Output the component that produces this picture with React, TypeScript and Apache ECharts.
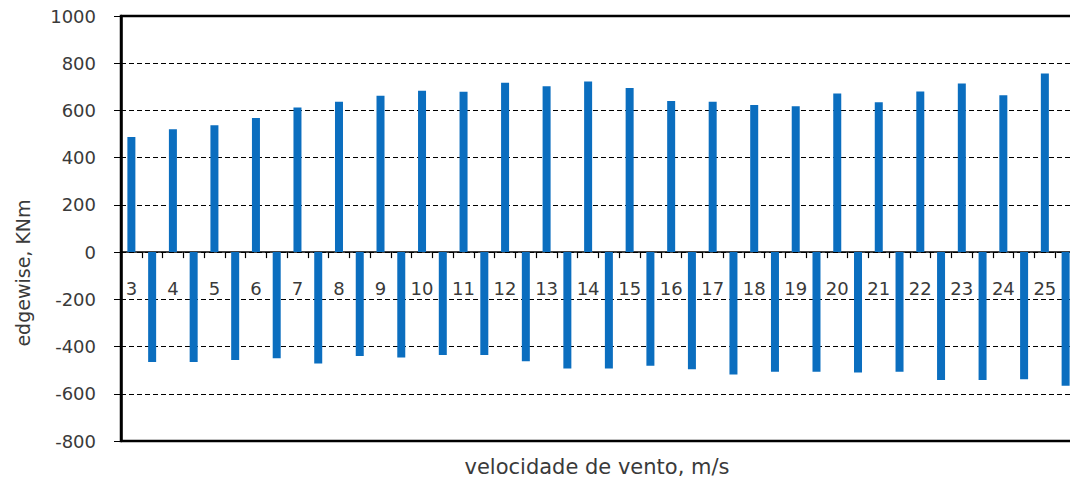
import React, { useEffect, useRef } from "react";
import * as echarts from "echarts";

const windSpeeds = [3, 4, 5, 6, 7, 8, 9, 10, 11, 12, 13, 14, 15, 16, 17, 18, 19, 20, 21, 22, 23, 24, 25];
const maxMoments = [488, 520, 537, 568, 613, 637, 662, 683, 679, 717, 703, 723, 695, 640, 637, 623, 618, 672, 635, 680, 714, 664, 757];
const minMoments = [-465, -465, -457, -450, -472, -440, -446, -436, -436, -462, -493, -493, -481, -496, -518, -507, -507, -510, -507, -542, -542, -538, -566];
const yTicks = { min: -800, max: 1000, interval: 200 };
const xTitle = "velocidade de vento, m/s";
const yTitle = "edgewise, KNm";

const FONT = "DejaVu Sans";
const BAR = "#0B6EBF";
const GRID_TOP = 16;
const GRID_BOTTOM = 38;
const HEIGHT = 479;

export default function App() {
  const ref = useRef<HTMLDivElement>(null);
  useEffect(() => {
    if (!ref.current) return;
    const chart = echarts.init(ref.current, undefined, { renderer: "svg" });
    const categories: string[] = [];
    const values: number[] = [];
    windSpeeds.forEach((s, i) => {
      categories.push(String(s));
      values.push(maxMoments[i]);
      categories.push(String(s) + "-");
      values.push(minMoments[i]);
    });
    const plotH = HEIGHT - GRID_TOP - GRID_BOTTOM;
    const zeroFromBottom = (0 - yTicks.min) / (yTicks.max - yTicks.min) * plotH;
    chart.setOption({
      animation: false,
      grid: {
        left: 121,
        top: GRID_TOP,
        right: -6,
        bottom: GRID_BOTTOM,
        outerBoundsMode: "none",
        containLabel: false,
        show: true,
        borderColor: "#000",
        borderWidth: 2.5,
        backgroundColor: "transparent",
      },
      xAxis: {
        type: "category",
        data: categories,
        position: "bottom",
        offset: -zeroFromBottom,
        axisLine: { onZero: false, lineStyle: { color: "#000", width: 1.5 } },
        axisTick: { show: true, interval: 0, length: 6, lineStyle: { color: "#000", width: 1.2 } },
        axisLabel: {
          interval: (idx: number) => idx % 2 === 0,
          formatter: (v: string) => v,
          margin: 27,
          fontSize: 18,
          fontFamily: FONT,
          color: "#3a3a3a",
        },
        splitLine: { show: false },
      },
      yAxis: {
        type: "value",
        min: yTicks.min,
        max: yTicks.max,
        interval: yTicks.interval,
        axisLine: { show: true, onZero: false, lineStyle: { color: "#000", width: 2.5 } },
        axisTick: { show: true, length: 7, lineStyle: { color: "#000", width: 1 } },
        axisLabel: {
          margin: 25,
          fontSize: 18,
          fontFamily: FONT,
          color: "#3a3a3a",
          formatter: (v: number) => String(v),
        },
        splitLine: { show: true, lineStyle: { color: "#000", width: 1.2, type: [5, 3] } },
      },
      series: [
        {
          type: "bar",
          data: values,
          barWidth: 8,
          itemStyle: { color: BAR },
        },
      ],
      graphic: [
        {
          type: "text",
          x: 597,
          y: 467,
          style: {
            text: xTitle,
            fontSize: 21,
            fontFamily: FONT,
            fill: "#3a3a3a",
            align: "center",
            verticalAlign: "middle",
          },
        },
        {
          type: "text",
          x: 23,
          y: 273,
          rotation: Math.PI / 2,
          style: {
            text: yTitle,
            fontSize: 19,
            fontFamily: FONT,
            fill: "#3a3a3a",
            align: "center",
            verticalAlign: "middle",
          },
        },
      ],
    });
    return () => chart.dispose();
  }, []);
  return (
    <div
      ref={ref}
      style={{ position: "absolute", left: 0, top: 0, width: 1070, height: 479, background: "#fff", overflow: "hidden" }}
    />
  );
}
